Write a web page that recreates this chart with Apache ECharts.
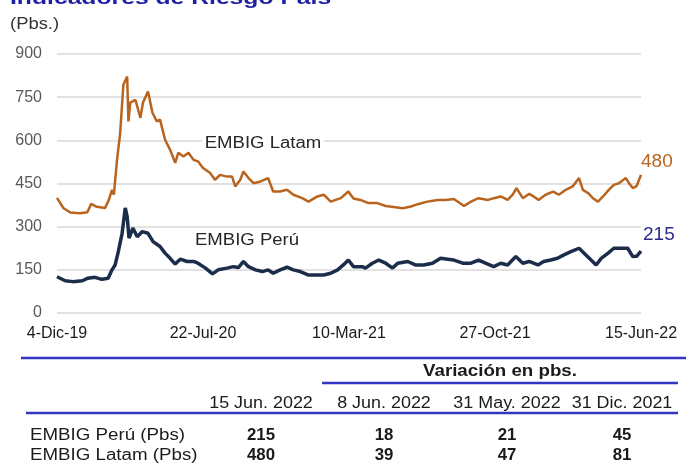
<!DOCTYPE html>
<html>
<head>
<meta charset="utf-8">
<script src="https://cdn.jsdelivr.net/npm/echarts@6/dist/echarts.min.js"></script>
<style>
html, body { margin: 0; padding: 0; background: #fff; }
#main { width: 686px; height: 464px; }
</style>
</head>
<body>
<div id="main"></div>
<script>
// ejes
var tickDates = ['2019-12-04', '2020-07-22', '2021-03-10', '2021-10-27', '2022-06-15'];
var tickLabels = ['4-Dic-19', '22-Jul-20', '10-Mar-21', '27-Oct-21', '15-Jun-22'];

// EMBIG Latam
var latamDates = ['2019-12-04', '2019-12-14', '2019-12-25', '2020-01-09', '2020-01-21', '2020-01-27', '2020-02-05', '2020-02-18', '2020-02-24', '2020-02-29',
    '2020-03-03', '2020-03-08', '2020-03-13', '2020-03-18', '2020-03-24', '2020-03-26', '2020-03-29', '2020-04-06', '2020-04-14', '2020-04-18',
    '2020-04-26', '2020-05-03', '2020-05-10', '2020-05-15', '2020-05-23', '2020-05-31', '2020-06-08', '2020-06-13', '2020-06-21', '2020-06-29',
    '2020-07-07', '2020-07-14', '2020-07-22', '2020-08-02', '2020-08-10', '2020-08-18', '2020-08-29', '2020-09-06', '2020-09-11', '2020-09-19',
    '2020-09-24', '2020-10-02', '2020-10-10', '2020-10-21', '2020-11-02', '2020-11-10', '2020-11-21', '2020-12-02', '2020-12-12', '2020-12-26',
    '2021-01-05', '2021-01-19', '2021-01-29', '2021-02-09', '2021-02-25', '2021-03-09', '2021-03-17', '2021-03-28', '2021-04-10', '2021-04-24',
    '2021-05-07', '2021-05-20', '2021-06-03', '2021-06-16', '2021-06-28', '2021-07-12', '2021-07-28', '2021-08-10', '2021-08-23', '2021-08-31',
    '2021-09-08', '2021-09-19', '2021-10-01', '2021-10-16', '2021-10-25', '2021-11-05', '2021-11-16', '2021-11-24', '2021-11-30', '2021-12-10',
    '2021-12-20', '2021-12-27', '2022-01-04', '2022-01-15', '2022-01-27', '2022-02-05', '2022-02-16', '2022-02-27', '2022-03-09', '2022-03-15',
    '2022-03-23', '2022-03-31', '2022-04-08', '2022-04-16', '2022-04-25', '2022-05-03', '2022-05-11', '2022-05-22', '2022-05-27', '2022-06-02',
    '2022-06-08', '2022-06-15'];
var latamValues = [400, 365, 349, 347, 350, 379, 369, 365, 393, 428,
    411, 532, 626, 793, 822, 666, 731, 741, 678, 731,
    770, 696, 666, 672, 602, 567, 522, 557, 544, 557,
    532, 527, 504, 487, 463, 480, 474, 474, 440, 463,
    492, 469, 451, 457, 469, 422, 422, 428, 411, 399,
    387, 405, 411, 387, 399, 422, 398, 393, 382, 382,
    372, 368, 364, 370, 379, 387, 393, 393, 396, 384,
    372, 387, 399, 393, 399, 405, 393, 411, 434, 399,
    414, 405, 393, 411, 422, 411, 428, 440, 469, 428,
    417, 399, 387, 405, 428, 445, 451, 469, 451, 434,
    441, 480];

// EMBIG Perú
var peruDates = ['2019-12-04', '2019-12-17', '2019-12-29', '2020-01-13', '2020-01-22', '2020-02-02', '2020-02-13', '2020-02-23', '2020-02-29', '2020-03-05',
    '2020-03-10', '2020-03-16', '2020-03-21', '2020-03-24', '2020-03-27', '2020-04-02', '2020-04-09', '2020-04-17', '2020-04-26', '2020-05-04',
    '2020-05-15', '2020-05-23', '2020-05-31', '2020-06-08', '2020-06-16', '2020-06-27', '2020-07-07', '2020-07-14', '2020-07-26', '2020-08-06',
    '2020-08-15', '2020-08-29', '2020-09-08', '2020-09-16', '2020-09-24', '2020-10-02', '2020-10-13', '2020-10-24', '2020-11-02', '2020-11-10',
    '2020-11-21', '2020-12-02', '2020-12-12', '2020-12-23', '2021-01-05', '2021-01-16', '2021-01-29', '2021-02-09', '2021-02-20', '2021-03-01',
    '2021-03-09', '2021-03-17', '2021-03-31', '2021-04-05', '2021-04-16', '2021-04-26', '2021-05-07', '2021-05-18', '2021-05-26', '2021-06-11',
    '2021-06-23', '2021-07-06', '2021-07-20', '2021-08-02', '2021-08-13', '2021-08-23', '2021-09-06', '2021-09-19', '2021-10-01', '2021-10-12',
    '2021-10-25', '2021-11-05', '2021-11-16', '2021-11-29', '2021-12-10', '2021-12-20', '2022-01-03', '2022-01-12', '2022-01-23', '2022-02-03',
    '2022-02-13', '2022-02-24', '2022-03-09', '2022-03-17', '2022-03-28', '2022-04-05', '2022-04-13', '2022-04-24', '2022-05-03', '2022-05-14',
    '2022-05-25', '2022-06-02', '2022-06-08', '2022-06-15'];
var peruValues = [126, 112, 109, 112, 121, 124, 117, 121, 150, 167,
    213, 277, 365, 335, 260, 295, 265, 283, 277, 248,
    231, 208, 190, 170, 187, 179, 179, 173, 156, 136,
    150, 156, 161, 158, 179, 161, 150, 144, 150, 138,
    150, 159, 150, 144, 132, 132, 132, 138, 150, 167,
    184, 161, 161, 156, 173, 184, 173, 156, 173, 179,
    167, 167, 173, 190, 187, 184, 173, 173, 184, 173,
    161, 173, 167, 196, 173, 179, 167, 179, 184, 190,
    202, 213, 225, 208, 184, 167, 190, 208, 225, 225,
    225, 196, 197, 215];

// tabla
var tableHeaders = ['15 Jun. 2022', '8 Jun. 2022', '31 May. 2022', '31 Dic. 2021'];
var tableRowNames = ['EMBIG Perú (Pbs)', 'EMBIG Latam (Pbs)'];
var peruTable = [215, 18, 21, 45];
var latamTable = [480, 39, 47, 81];

var FONT = '"Liberation Sans", Arial, sans-serif';
var DAY = 86400000;
function dayOf(d) {
    return (Date.parse(d) - Date.parse(tickDates[0])) / DAY;
}
function toPairs(dates, values) {
    return dates.map(function (d, i) { return [dayOf(d), values[i]]; });
}

var myChart = echarts.init(document.getElementById('main'));

// textos de la tabla
var colX = [261, 384, 507, 622];
var graphics = [
    { type: 'text', x: 10, y: 8, scaleX: 1.3, style: { text: 'Indicadores de Riesgo País', font: 'bold 19px ' + FONT, fill: '#1f1fa6', align: 'left', textAlign: 'left', verticalAlign: 'bottom', textVerticalAlign: 'bottom' } },
    { type: 'text', x: 10, y: 25, scaleX: 1.15, style: { text: '(Pbs.)', font: '16px ' + FONT, fill: '#333333', align: 'left', textAlign: 'left', verticalAlign: 'middle', textVerticalAlign: 'middle' } },
    { type: 'text', x: 263, y: 144, z: 10, scaleX: 1.16, style: { text: 'EMBIG Latam', font: '16px ' + FONT, fill: '#262626', backgroundColor: '#ffffff', padding: [1, 2], align: 'center', textAlign: 'center', verticalAlign: 'middle', textVerticalAlign: 'middle' } },
    { type: 'text', x: 247, y: 241, scaleX: 1.16, style: { text: 'EMBIG Perú', font: '16px ' + FONT, fill: '#262626', align: 'center', textAlign: 'center', verticalAlign: 'middle', textVerticalAlign: 'middle' } },
    { type: 'line', shape: { x1: 21, y1: 358, x2: 686, y2: 358 }, style: { stroke: '#3434c4', lineWidth: 2.5 } },
    { type: 'line', shape: { x1: 322, y1: 383, x2: 678, y2: 383 }, style: { stroke: '#3434c4', lineWidth: 2.5 } },
    { type: 'line', shape: { x1: 26, y1: 413, x2: 678, y2: 413 }, style: { stroke: '#3434c4', lineWidth: 2.5 } },
    { type: 'text', x: 500, y: 372, scaleX: 1.17, style: { text: 'Variación en pbs.', font: 'bold 16px ' + FONT, fill: '#1a1a1a', align: 'center', textAlign: 'center', verticalAlign: 'middle', textVerticalAlign: 'middle' } }
];
tableHeaders.forEach(function (h, i) {
    graphics.push({ type: 'text', x: colX[i], y: 404, scaleX: 1.12, style: { text: h, font: '16px ' + FONT, fill: '#1a1a1a', align: 'center', textAlign: 'center', verticalAlign: 'middle', textVerticalAlign: 'middle' } });
});
[peruTable, latamTable].forEach(function (row, r) {
    var y = 436 + r * 20;
    graphics.push({ type: 'text', x: 30, y: y, scaleX: 1.17, style: { text: tableRowNames[r], font: '16px ' + FONT, fill: '#1a1a1a', align: 'left', textAlign: 'left', verticalAlign: 'middle', textVerticalAlign: 'middle' } });
    row.forEach(function (v, i) {
        graphics.push({ type: 'text', x: colX[i], y: y, scaleX: 1.05, style: { text: String(v), font: 'bold 16px ' + FONT, fill: '#1a1a1a', align: 'center', textAlign: 'center', verticalAlign: 'middle', textVerticalAlign: 'middle' } });
    });
});

var option = {
    animation: false,
    backgroundColor: '#ffffff',
    grid: { left: 57, right: 45, top: 54, bottom: 151 },
    xAxis: {
        type: 'value',
        min: dayOf(tickDates[0]),
        max: dayOf(tickDates[tickDates.length - 1]),
        interval: dayOf(tickDates[1]),
        axisLine: { show: false },
        axisTick: { show: false },
        splitLine: { show: false },
        axisLabel: {
            color: '#1a1a1a',
            fontSize: 16,
            fontFamily: FONT,
            margin: 13,
            showMinLabel: true,
            showMaxLabel: true,
            hideOverlap: false,
            formatter: function (v) {
                return tickLabels[Math.round(v / dayOf(tickDates[1]))];
            }
        }
    },
    yAxis: {
        type: 'value',
        min: 0,
        max: 900,
        interval: 150,
        axisLine: { show: false },
        axisTick: { show: false },
        axisLabel: { color: '#595959', fontSize: 16, fontFamily: FONT, margin: 15 },
        splitLine: { lineStyle: { color: '#d9d9d9', width: 1.5 } }
    },
    series: [
        {
            name: 'EMBIG Latam',
            type: 'line',
            data: toPairs(latamDates, latamValues),
            showSymbol: false,
            lineStyle: { color: '#b9641e', width: 2.5 },
            itemStyle: { color: '#b9641e' },
            endLabel: {
                show: true,
                formatter: function (p) { return p.value[1]; },
                color: '#b9641e',
                fontSize: 19,
                fontFamily: FONT,
                offset: [-8, -13]
            }
        },
        {
            name: 'EMBIG Perú',
            type: 'line',
            data: toPairs(peruDates, peruValues),
            showSymbol: false,
            lineStyle: { color: '#1b2d4b', width: 3.5 },
            itemStyle: { color: '#1b2d4b' },
            endLabel: {
                show: true,
                formatter: function (p) { return p.value[1]; },
                color: '#2b2b8c',
                fontSize: 19,
                fontFamily: FONT,
                offset: [-6, -16]
            }
        }
    ],
    graphic: graphics
};
myChart.setOption(option);
</script>
</body>
</html>
